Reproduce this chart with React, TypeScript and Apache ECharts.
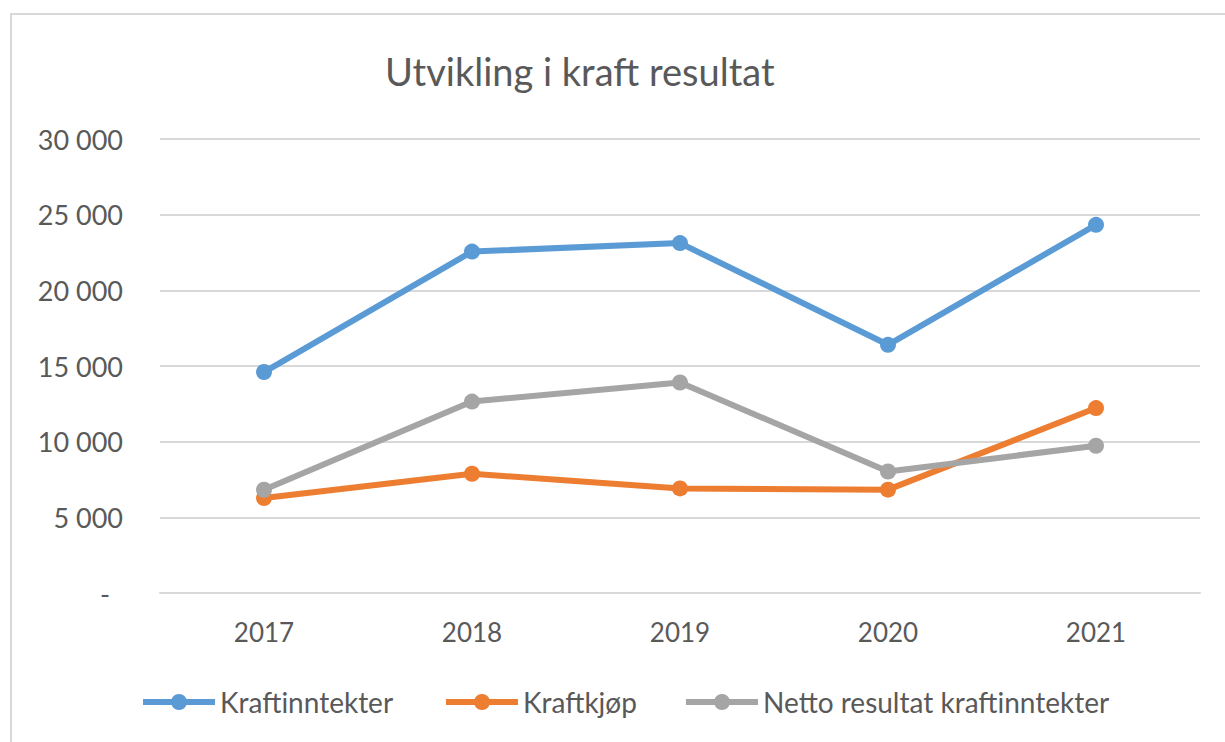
import React, { useEffect, useRef } from "react";
import * as echarts from "echarts";

const years = ["2017", "2018", "2019", "2020", "2021"];
const kraftinntekter = [14600, 22560, 23120, 16400, 24330];
const kraftkjop = [6280, 7880, 6910, 6830, 12220];
const netto = [6820, 12650, 13910, 8030, 9730];
const seriesNames = ["Kraftinntekter", "Kraftkjøp", "Netto resultat kraftinntekter"];
const colors = ["#5B9BD5", "#ED7D31", "#A5A5A5"];
const yTicks = { min: 0, max: 30000, interval: 5000 };

const FONT = "Lato";
const TEXT = "#595959";

function fmt(v: number): string {
  if (v === 0) return "{z|-}";
  return String(v).replace(/\B(?=(\d{3})+(?!\d))/g, " ");
}

export default function App() {
  const ref = useRef<HTMLDivElement>(null);
  useEffect(() => {
    if (!ref.current) return;
    const chart = echarts.init(ref.current, undefined, { renderer: "svg" });
    const dataSets = [kraftinntekter, kraftkjop, netto];
    const legendLefts = [140, 443, 683];
    chart.setOption({
      animation: false,
      backgroundColor: "#ffffff",
      title: {
        text: "Utvikling i kraft resultat",
        left: 385,
        top: 52,
        padding: 0,
        textStyle: { fontFamily: FONT, fontSize: 38, fontWeight: "normal", color: TEXT },
      },
      graphic: [
        {
          type: "rect",
          shape: { x: 11, y: 14, width: 1400, height: 900 },
          style: { fill: "none", stroke: "#d9d9d9", lineWidth: 2 },
          silent: true,
        },
      ],
      legend: seriesNames.map((n, i) => ({
        data: [n],
        left: legendLefts[i],
        top: 688,
        padding: 0,
        itemWidth: 72,
        itemHeight: 20,
        lineStyle: { width: 6 },
        textStyle: { fontFamily: FONT, fontSize: 28, color: TEXT },
      })),
      grid: { left: 160, right: 25, top: 139, bottom: 149 },
      xAxis: {
        type: "category",
        data: years,
        boundaryGap: true,
        axisLine: { show: true, lineStyle: { color: "#d9d9d9", width: 2 } },
        axisTick: { show: false },
        axisLabel: { fontFamily: FONT, fontSize: 26, color: TEXT, margin: 26 },
      },
      yAxis: {
        type: "value",
        min: yTicks.min,
        max: yTicks.max,
        interval: yTicks.interval,
        axisLine: { show: false },
        axisTick: { show: false },
        splitLine: { lineStyle: { color: "#d9d9d9", width: 2 } },
        axisLabel: {
          fontFamily: FONT,
          fontSize: 27,
          color: TEXT,
          margin: 37,
          formatter: (v: number) => fmt(v),
          rich: { z: { fontFamily: FONT, fontSize: 27, color: TEXT, padding: [0, 13, 0, 0] } },
        },
      },
      series: seriesNames.map((n, i) => ({
        name: n,
        type: "line",
        data: dataSets[i],
        color: colors[i],
        symbol: "circle",
        symbolSize: 16,
        lineStyle: { width: 6, color: colors[i] },
        itemStyle: { color: colors[i] },
      })),
    });
    return () => chart.dispose();
  }, []);
  return (
    <div
      ref={ref}
      style={{ position: "absolute", left: 0, top: 0, width: 1225, height: 742 }}
    />
  );
}
